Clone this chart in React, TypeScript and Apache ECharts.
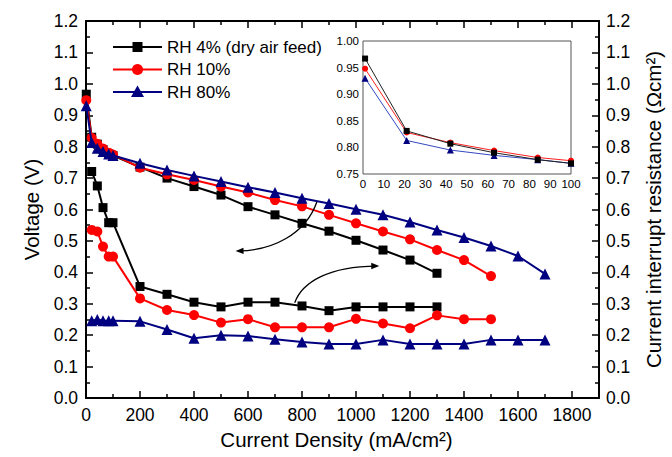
import React, { useEffect, useRef } from "react";
import * as echarts from "echarts";

// Current density (mA/cm2) for polarization points
const currentPol = [1, 21, 42, 63, 84, 100, 200, 300, 400, 500, 600, 700, 800, 900, 1000, 1100, 1200, 1300, 1400, 1500, 1600, 1700];
// Current density for current-interrupt resistance points
const currentRes = [21, 42, 63, 84, 100, 200, 300, 400, 500, 600, 700, 800, 900, 1000, 1100, 1200, 1300, 1400, 1500, 1600, 1700];

const seriesNames = ["RH 4% (dry air feed)", "RH 10%", "RH 80%"];

// Voltage (V)
const voltageRH4 = [0.967, 0.830, 0.808, 0.791, 0.777, 0.772, 0.735, 0.700, 0.673, 0.646, 0.609, 0.583, 0.556, 0.531, 0.502, 0.471, 0.439, 0.397];
const voltageRH10 = [0.948, 0.828, 0.809, 0.794, 0.781, 0.775, 0.733, 0.712, 0.694, 0.673, 0.654, 0.630, 0.610, 0.583, 0.556, 0.530, 0.505, 0.471, 0.439, 0.388];
const voltageRH80 = [0.930, 0.813, 0.795, 0.785, 0.777, 0.772, 0.747, 0.726, 0.707, 0.689, 0.671, 0.654, 0.636, 0.619, 0.601, 0.583, 0.560, 0.535, 0.511, 0.484, 0.452, 0.395];

// Current interrupt resistance (Ohm cm2)
const resRH4 = [0.721, 0.675, 0.606, 0.558, 0.558, 0.355, 0.330, 0.305, 0.290, 0.305, 0.305, 0.293, 0.278, 0.290, 0.290, 0.290, 0.290];
const resRH10 = [0.535, 0.530, 0.482, 0.450, 0.450, 0.317, 0.280, 0.264, 0.240, 0.251, 0.225, 0.225, 0.225, 0.252, 0.237, 0.222, 0.263, 0.251, 0.251];
const resRH80 = [0.246, 0.250, 0.246, 0.246, 0.246, 0.244, 0.218, 0.190, 0.200, 0.197, 0.187, 0.178, 0.172, 0.172, 0.185, 0.172, 0.172, 0.172, 0.185, 0.185, 0.185];

// Inset (low current region)
const insetCurrent = [1, 21, 42, 63, 84, 100];
const insetRH4 = [0.967, 0.831, 0.807, 0.790, 0.777, 0.770];
const insetRH10 = [0.948, 0.828, 0.809, 0.794, 0.781, 0.775];
const insetRH80 = [0.930, 0.813, 0.795, 0.785, 0.777, 0.770];

const xTicksMain = { min: 0, max: 1900, interval: 200 };
const yTicksMain = { min: 0, max: 1.2, interval: 0.1 };
const xTicksInset = { min: 0, max: 100, interval: 10 };
const yTicksInset = { min: 0.75, max: 1.0, interval: 0.05 };

const pairs = (xs: number[], ys: number[]) => ys.map((y, i) => [xs[i], y]);

export default function App() {
  const ref = useRef<HTMLDivElement>(null);
  useEffect(() => {
    const chart = echarts.init(ref.current!, null, { renderer: "svg" });
    const font = "Liberation Sans, Arial, sans-serif";
    const colors = ["#000000", "#ff0000", "#000080"];
    const insetColors = ["#222222", "#ff2020", "#3348c0"];
    const symbols = ["rect", "circle", "triangle"];
    const sizes = [9, 10, 11];
    const insetSizes = [6, 6, 7];

    const mainAxisLine = { show: true, onZero: false, lineStyle: { color: "#000", width: 2 } };
    const mainTick = { show: true, inside: true, length: 7, lineStyle: { color: "#000", width: 1.5 } };
    const mainMinor = { show: true, splitNumber: 2, length: 4, lineStyle: { color: "#000", width: 1.5 } };

    const polData = [voltageRH4, voltageRH10, voltageRH80];
    const resData = [resRH4, resRH10, resRH80];
    const insetData = [insetRH4, insetRH10, insetRH80];

    const series: any[] = [];
    for (let i = 0; i < 3; i++) {
      series.push({
        name: seriesNames[i],
        type: "line",
        xAxisIndex: 0,
        yAxisIndex: 0,
        data: pairs(currentPol, polData[i]),
        symbol: symbols[i],
        symbolSize: sizes[i],
        lineStyle: { color: colors[i], width: 2 },
        itemStyle: { color: colors[i] },
        z: 3 + i,
      });
    }
    for (let i = 0; i < 3; i++) {
      series.push({
        name: seriesNames[i],
        type: "line",
        xAxisIndex: 0,
        yAxisIndex: 1,
        data: pairs(currentRes, resData[i]),
        symbol: symbols[i],
        symbolSize: sizes[i],
        lineStyle: { color: colors[i], width: 2 },
        itemStyle: { color: colors[i] },
        z: 3 + i,
      });
    }
    for (let i = 0; i < 3; i++) {
      series.push({
        name: seriesNames[i],
        type: "line",
        xAxisIndex: 2,
        yAxisIndex: 2,
        data: pairs(insetCurrent, insetData[i]),
        symbol: symbols[i],
        symbolSize: insetSizes[i],
        lineStyle: { color: insetColors[i], width: 1 },
        itemStyle: { color: colors[i] },
        z: 6 - i,
      });
    }

    chart.setOption({
      animation: false,
      backgroundColor: "#fff",
      textStyle: { fontFamily: font },
      grid: [
        { left: 86, top: 21, width: 513, height: 377, show: false },
        { left: 363, top: 41, width: 208, height: 133, show: true, borderColor: "#555", borderWidth: 1, backgroundColor: "#fff" },
      ],
      xAxis: [
        {
          type: "value", gridIndex: 0, position: "bottom", ...xTicksMain,
          axisLine: mainAxisLine, axisTick: mainTick, minorTick: mainMinor,
          splitLine: { show: false },
          axisLabel: { fontSize: 17.5, color: "#000", margin: 8, showMaxLabel: false, fontFamily: font, formatter: (v: number) => String(v) },
          name: "Current Density (mA/cm²)", nameLocation: "middle", nameGap: 31,
          nameTextStyle: { fontSize: 20.5, color: "#000", fontFamily: font, padding: [0, 12, 0, 0] },
        },
        {
          type: "value", gridIndex: 0, position: "top", ...xTicksMain,
          axisLine: mainAxisLine, axisTick: mainTick, minorTick: mainMinor,
          splitLine: { show: false }, axisLabel: { show: false },
        },
        {
          type: "value", gridIndex: 1, position: "bottom", ...xTicksInset,
          axisLine: { show: false, onZero: false }, axisTick: { show: false },
          splitLine: { show: false },
          axisLabel: { fontSize: 11.5, color: "#000", margin: 4, fontFamily: font },
        },
      ],
      yAxis: [
        {
          type: "value", gridIndex: 0, position: "left", ...yTicksMain,
          axisLine: mainAxisLine, axisTick: mainTick, minorTick: mainMinor,
          splitLine: { show: false },
          axisLabel: { fontSize: 17.5, color: "#000", margin: 8, formatter: (v: number) => v.toFixed(1), fontFamily: font },
          name: "Voltage (V)", nameLocation: "middle", nameGap: 44, nameRotate: 90,
          nameTextStyle: { fontSize: 20.5, color: "#000", fontFamily: font },
        },
        {
          type: "value", gridIndex: 0, position: "right", ...yTicksMain,
          axisLine: mainAxisLine, axisTick: mainTick, minorTick: mainMinor,
          splitLine: { show: false },
          axisLabel: { fontSize: 17.5, color: "#000", margin: 7, formatter: (v: number) => v.toFixed(1), fontFamily: font },
          name: "Current interrupt resistance (Ωcm²)", nameLocation: "middle", nameGap: 44, nameRotate: 90,
          nameTextStyle: { fontSize: 20.5, color: "#000", fontFamily: font },
        },
        {
          type: "value", gridIndex: 1, position: "left", ...yTicksInset,
          axisLine: { show: false, onZero: false }, axisTick: { show: false },
          splitLine: { show: false },
          axisLabel: { fontSize: 11.5, color: "#000", margin: 4, formatter: (v: number) => v.toFixed(2), fontFamily: font },
        },
      ],
      series,
    });

    const graphics: any[] = [];

    // Legend drawn as graphic elements (line + marker + text)
    const legendRows = [47, 69.5, 92];
    const lx0 = 113, lx1 = 162, mx = 137.5, tx = 167;
    seriesNames.forEach((name, i) => {
      const y = legendRows[i];
      graphics.push({ type: "line", shape: { x1: lx0, y1: y, x2: lx1, y2: y }, style: { stroke: colors[i], lineWidth: 2 }, z: 20 });
      if (i === 0) {
        graphics.push({ type: "rect", shape: { x: mx - 5, y: y - 5, width: 10, height: 10 }, style: { fill: colors[i] }, z: 21 });
      } else if (i === 1) {
        graphics.push({ type: "circle", shape: { cx: mx, cy: y, r: 5.5 }, style: { fill: colors[i] }, z: 21 });
      } else {
        graphics.push({ type: "polygon", shape: { points: [[mx, y - 6.5], [mx + 6.5, y + 5], [mx - 6.5, y + 5]] }, style: { fill: colors[i] }, z: 21 });
      }
      graphics.push({
        type: "text", x: tx, y, z: 100,
        style: { text: name, fontSize: 17, fontFamily: font, fill: "#000", verticalAlign: "middle", align: "left" },
      });
    });

    // Curved annotation arrows, defined in data coordinates of the main grid
    const toPx = (x: number, y: number) => chart.convertToPixel({ xAxisIndex: 0, yAxisIndex: 0 } as any, [x, y]) as number[];
    const arrowDefs = [
      [[855, 0.624], [812, 0.52], [690, 0.47], [565, 0.468]],
      [[773, 0.303], [800, 0.369], [903, 0.420], [1075, 0.420]],
    ];
    arrowDefs.forEach((d) => {
      const [p1, c1, c2, p2] = d.map(([x, y]) => toPx(x, y));
      graphics.push({
        type: "bezierCurve",
        shape: { x1: p1[0], y1: p1[1], cpx1: c1[0], cpy1: c1[1], cpx2: c2[0], cpy2: c2[1], x2: p2[0], y2: p2[1] },
        style: { stroke: "#000", lineWidth: 1.3, fill: null },
        z: 10,
      });
      const dx = p2[0] - c2[0];
      const dy = p2[1] - c2[1];
      const len = Math.hypot(dx, dy) || 1;
      const ux = dx / len, uy = dy / len;
      const tip = [p2[0] + ux * 3, p2[1] + uy * 3];
      const back = [tip[0] - ux * 8, tip[1] - uy * 8];
      const nx = -uy, ny = ux;
      graphics.push({
        type: "polygon",
        shape: { points: [tip, [back[0] + nx * 3.2, back[1] + ny * 3.2], [back[0] - nx * 3.2, back[1] - ny * 3.2]] },
        style: { fill: "#000" },
        z: 10,
      });
    });
    chart.setOption({ graphic: graphics });

    return () => chart.dispose();
  }, []);
  return <div ref={ref} style={{ position: "absolute", left: 0, top: 0, width: 672, height: 457 }} />;
}
